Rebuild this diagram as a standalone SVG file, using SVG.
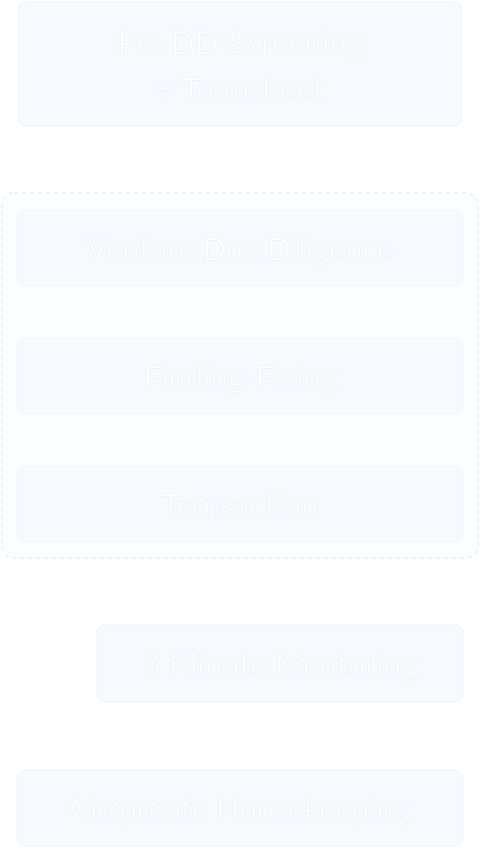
<svg xmlns="http://www.w3.org/2000/svg" width="480" height="848" viewBox="0 0 480 848">
<style>
.box{fill:#f6fafe;stroke:#f1f7fd;stroke-width:1.5}
.lbl{font-family:Lato,"Open Sans",sans-serif;font-size:31px;fill:#ffffff;text-anchor:middle;stroke:#eaf3fb;stroke-width:0.7}
.cluster{fill:#fbfdff;stroke:#e6f0fa;stroke-width:1.5;stroke-dasharray:4 4}
</style>
<rect width="480" height="848" fill="#ffffff"/>
<g id="connectors"></g>
<g id="n1">
<rect class="box" x="18" y="2" width="444" height="124" rx="8"/>
<text class="lbl" x="240" y="54">Pre DD-Screening</text>
<text class="lbl" x="240" y="100">+ Termsheet</text>
</g>
<g id="cluster">
<rect class="cluster" x="2" y="193" width="476" height="365" rx="12"/>
</g>
<g id="n2">
<rect class="box" x="17" y="210" width="446" height="76" rx="8"/>
<text class="lbl" x="240" y="260">Venture Due Diligence</text>
</g>
<g id="n3">
<rect class="box" x="17" y="338" width="446" height="76" rx="8"/>
<text class="lbl" x="240" y="388">Finding-Fixing</text>
</g>
<g id="n4">
<rect class="box" x="17" y="466" width="446" height="76" rx="8"/>
<text class="lbl" x="240" y="516">Transaction</text>
</g>
<g id="n5">
<rect class="box" x="97" y="625" width="366" height="77" rx="8"/>
<text class="lbl" x="280" y="675">3 Minute Mentoring</text>
</g>
<g id="n6">
<rect class="box" x="17" y="770" width="446" height="76" rx="8"/>
<text class="lbl" x="240" y="819">Corporate Housekeeping</text>
</g>
</svg>
